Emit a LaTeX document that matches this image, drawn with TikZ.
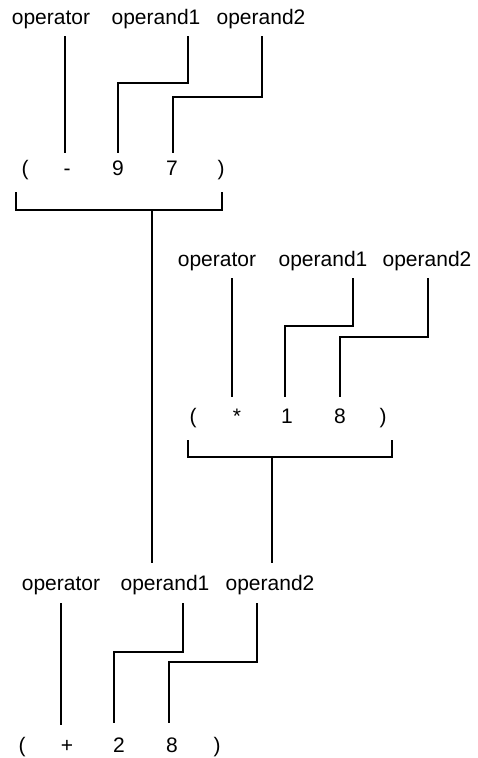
\documentclass[tikz,border=0pt]{standalone}
\usepackage{fontspec}
\setmainfont{Liberation Sans}
\begin{document}
\begin{tikzpicture}[x=1pt,y=-1pt,line width=1.3pt,
  txt/.style={anchor=base,inner sep=0pt,font=\fontsize{21}{25}\selectfont}]
\useasboundingbox (0,0) rectangle (477,758);
% ---------- top expression ----------
\node[txt] (aop) at (51,24) {operator};
\node[txt] (aa1) at (156,24) {operand1};
\node[txt] (aa2) at (261,24) {operand2};
\node[txt] (alp) at (25,175) {(};
\node[txt] (asym) at (67,175) {-};
\node[txt] (an1) at (118,175) {9};
\node[txt] (an2) at (172,175) {7};
\node[txt] (arp) at (221,175) {)};
\coordinate (aopT) at (65,36);  \coordinate (aopB) at (65,153);
\coordinate (aa1T) at (188,36); \coordinate (aa1B) at (118,153);
\coordinate (aa2T) at (262,36); \coordinate (aa2B) at (173,153);
\draw (aopT) -- (aopB);
\draw (aa1T) -- (188,83) -- (118,83) -- (aa1B);
\draw (aa2T) -- (262,97) -- (173,97) -- (aa2B);
\coordinate (abL) at (16,192); \coordinate (abR) at (222,192);
\draw (abL) -- (16,210) -- (222,210) -- (abR);
% ---------- middle expression ----------
\node[txt] (bop) at (217,266) {operator};
\node[txt] (ba1) at (323,266) {operand1};
\node[txt] (ba2) at (427,266) {operand2};
\node[txt] (blp) at (193,423) {(};
\node[txt] (bsym) at (237,423) {*};
\node[txt] (bn1) at (287,423) {1};
\node[txt] (bn2) at (340,423) {8};
\node[txt] (brp) at (383,423) {)};
\coordinate (bopT) at (232,278); \coordinate (bopB) at (232,397);
\coordinate (ba1T) at (353,278); \coordinate (ba1B) at (285,397);
\coordinate (ba2T) at (428,278); \coordinate (ba2B) at (340,397);
\draw (bopT) -- (bopB);
\draw (ba1T) -- (353,326) -- (285,326) -- (ba1B);
\draw (ba2T) -- (428,337) -- (340,337) -- (ba2B);
\coordinate (bbL) at (188,440); \coordinate (bbR) at (392,440);
\draw (bbL) -- (188,457) -- (392,457) -- (bbR);
% ---------- bottom expression ----------
\node[txt] (cop) at (61,590) {operator};
\node[txt] (ca1) at (165,590) {operand1};
\node[txt] (ca2) at (270,590) {operand2};
\node[txt] (clp) at (22,752) {(};
\node[txt] (csym) at (67,752) {+};
\node[txt] (cn1) at (119,752) {2};
\node[txt] (cn2) at (172,752) {8};
\node[txt] (crp) at (217,752) {)};
\coordinate (copT) at (61,603); \coordinate (copB) at (61,725);
\coordinate (ca1T) at (183,603); \coordinate (ca1B) at (114,723);
\coordinate (ca2T) at (257,603); \coordinate (ca2B) at (169,723);
\draw (copT) -- (copB);
\draw (ca1T) -- (183,652) -- (114,652) -- (ca1B);
\draw (ca2T) -- (257,662) -- (169,662) -- (ca2B);
% ---------- stems into bottom operands ----------
\coordinate (aStem) at (152,210); \coordinate (aEnd) at (152,563);
\coordinate (bStem) at (272,457); \coordinate (bEnd) at (272,563);
\draw (aStem) -- (aEnd);
\draw (bStem) -- (bEnd);
\end{tikzpicture}
\end{document}
